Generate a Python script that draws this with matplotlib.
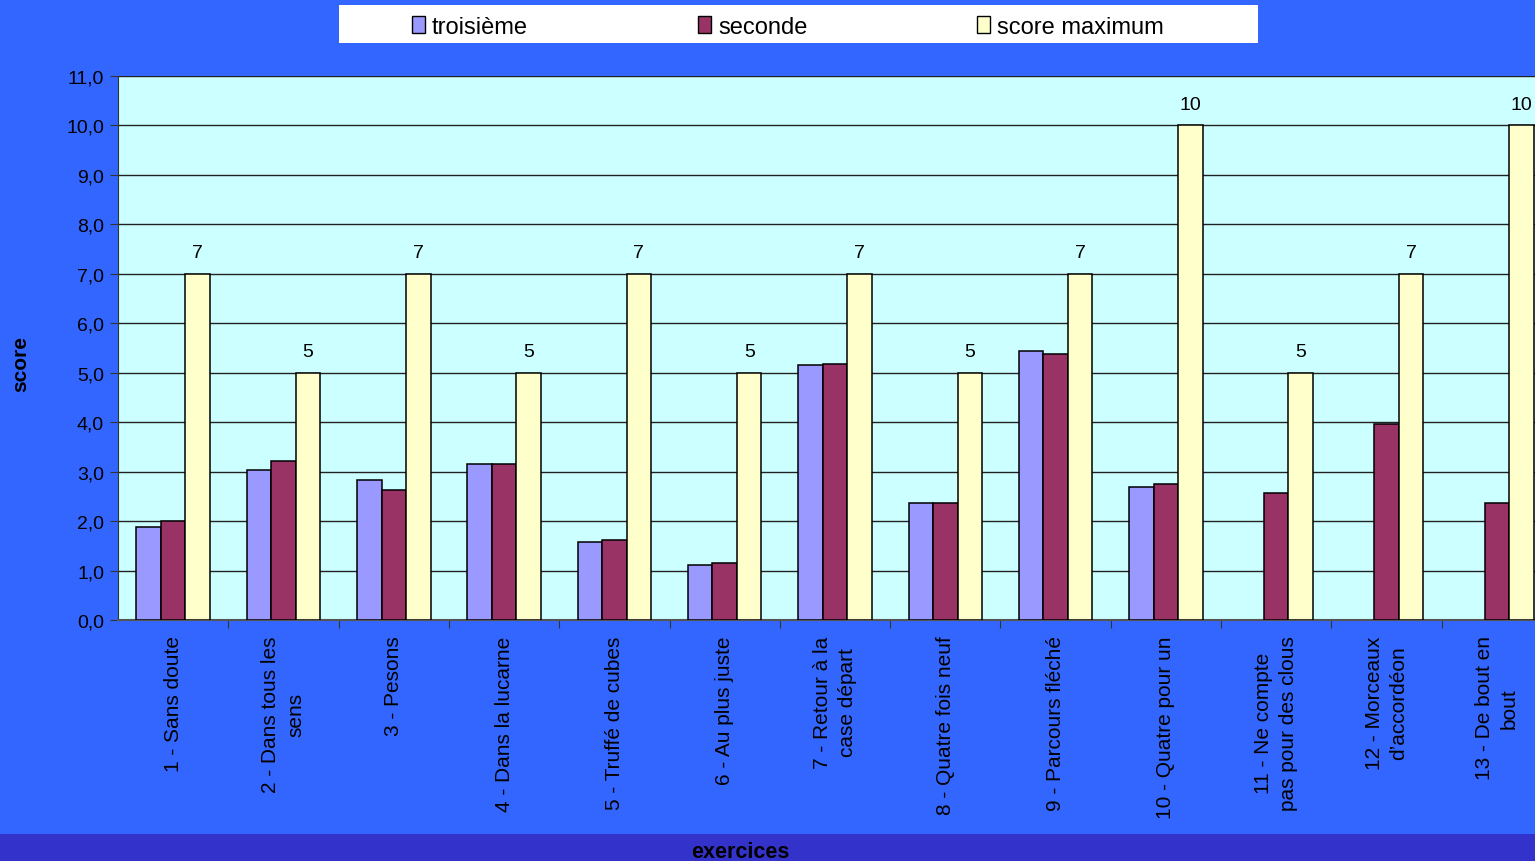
import numpy as np
import matplotlib
matplotlib.use("Agg")
import matplotlib.pyplot as plt
from matplotlib.patches import Rectangle, Patch

plt.rcParams["font.family"] = ["Liberation Sans", "DejaVu Sans"]

# ── data ──────────────────────────────────────────────────────────────────────
exercices = [
    "1 - Sans doute",
    "2 - Dans tous les\nsens",
    "3 - Pesons",
    "4 - Dans la lucarne",
    "5 - Truffé de cubes",
    "6 - Au plus juste",
    "7 - Retour à la\ncase départ",
    "8 - Quatre fois neuf",
    "9 - Parcours fléché",
    "10 - Quatre pour un",
    "11 - Ne compte\npas pour des clous",
    "12 - Morceaux\nd’accordéon",
    "13 - De bout en\nbout",
]
troisieme = [1.88, 3.03, 2.83, 3.15, 1.58, 1.11, 5.15, 2.36, 5.43, 2.69, np.nan, np.nan, np.nan]
seconde   = [2.00, 3.21, 2.63, 3.15, 1.62, 1.15, 5.17, 2.36, 5.37, 2.75, 2.57, 3.96, 2.36]
score_max = [7, 5, 7, 5, 7, 5, 7, 5, 7, 10, 5, 7, 10]

series = [("troisième", troisieme, "#9999FF"),
          ("seconde", seconde, "#993366"),
          ("score maximum", score_max, "#FFFFCC")]

# ── figure ────────────────────────────────────────────────────────────────────
W, H = 1535, 862
fig = plt.figure(figsize=(W / 100, H / 100), dpi=100)
fig.patch.set_facecolor("#3366FF")

# dark strip at the bottom
fig.add_artist(Rectangle((0, 0), 1, 27 / H, transform=fig.transFigure,
                         facecolor="#3333CC", edgecolor="none", zorder=0))

ax = fig.add_axes([118 / W, (H - 621) / H, 1434 / W, 544 / H])
ax.set_facecolor("#CCFFFF")

n = len(exercices)
centers = np.arange(n) + 0.5
bw = 0.222
for k, (name, vals, col) in enumerate(series):
    ax.bar(centers + (k - 1) * bw, vals, width=bw, color=col,
           edgecolor="black", linewidth=1.1, zorder=3, label=name)

for x, v in zip(centers + bw, score_max):
    ax.text(x, v + 0.25, f"{v}", ha="center", va="bottom", fontsize=14,
            color="black", zorder=4)

ax.set_xlim(0, n)
ax.set_ylim(0, 11)
ax.set_yticks(np.arange(0, 12))
ax.set_yticklabels([f"{v:.1f}".replace(".", ",") for v in range(12)], fontsize=14)
ax.yaxis.grid(True, color="#222222", linewidth=1.0, zorder=1)
ax.set_axisbelow(True)

ax.set_xticks(np.arange(1, n + 1))
ax.set_xticklabels([])
ax.set_xticks(centers, minor=True)
ax.set_xticklabels(exercices, minor=True, rotation=90, fontsize=15,
                   va="top", ha="center", multialignment="center",
                   linespacing=1.4)
ax.tick_params(axis="x", which="minor", length=0, pad=11)
ax.tick_params(axis="x", which="major", length=6, color="#333333", direction="out")
ax.tick_params(axis="y", length=6, color="#333333", direction="out", pad=4)

for s in ("top", "right"):
    ax.spines[s].set_visible(False)
ax.spines["left"].set_color("#333333")
ax.spines["bottom"].set_color("#555555")
ax.spines["bottom"].set_linewidth(1.5)

fig.text(21 / W, 1 - 364 / H, "score", rotation=90, ha="center", va="center",
         fontsize=15, fontweight="bold")
fig.text(740 / W, 1 - 853 / H, "exercices", ha="center", va="center",
         fontsize=15.5, fontweight="bold")

# legend on a white band
fig.add_artist(Rectangle((339 / W, 1 - 44 / H), 919 / W, 38 / H,
                         transform=fig.transFigure, facecolor="white",
                         edgecolor="none", zorder=1))
handles = [Patch(facecolor=c, edgecolor="black", linewidth=1.0) for _, _, c in series]
leg = fig.legend(handles, [s[0] for s in series], loc="center",
                 bbox_to_anchor=(788 / W, 1 - 28 / H), ncol=3, frameon=False,
                 fontsize=17, handlelength=0.55, handleheight=0.7,
                 handletextpad=0.3, columnspacing=7.2)
leg.set_zorder(2)

fig.savefig("out.png", dpi=100, facecolor=fig.get_facecolor())
